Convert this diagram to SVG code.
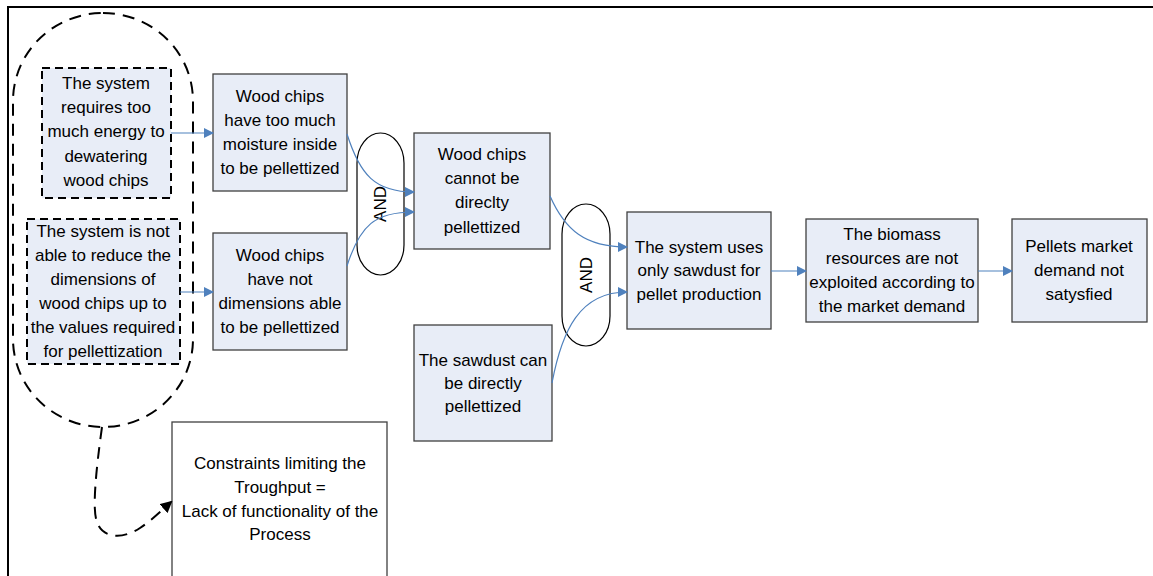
<svg xmlns="http://www.w3.org/2000/svg" width="1153" height="576" viewBox="0 0 1153 576">
<defs>
<style>
.box{fill:#E8EDF7;stroke:#404040;stroke-width:1.3}
.dbox{fill:#E8EDF7;stroke:#000;stroke-width:2;stroke-dasharray:8,5}
.wbox{fill:#fff;stroke:#404040;stroke-width:1.3}
.gate{fill:none;stroke:#000;stroke-width:1.2}
.t{font-family:"Liberation Sans",Arial,sans-serif;font-size:17px;fill:#000;text-anchor:middle}
.c{fill:none;stroke:#4F81BD;stroke-width:1.2}
</style>
<marker id="ab" markerWidth="10" markerHeight="10" refX="9" refY="5" orient="auto" markerUnits="userSpaceOnUse"><path d="M0,0 L10,5 L0,10 z" fill="#4F81BD"/></marker>
<marker id="ak" markerWidth="12" markerHeight="12" refX="10" refY="6" orient="auto" markerUnits="userSpaceOnUse"><path d="M0,0 L12,6 L0,12 z" fill="#000"/></marker>
</defs>
<path d="M8,576 V7 H1153" fill="none" stroke="#000" stroke-width="2"/>
<g id="group-boundary"><rect x="13" y="13" width="180" height="414" rx="90" ry="88" fill="none" stroke="#000" stroke-width="2" stroke-dasharray="12,8"/></g>
<g id="n1"><rect class="dbox" x="42" y="68" width="129" height="130"/>
<text class="t"><tspan x="106" y="89">The system</tspan><tspan x="106" y="113">requires too</tspan><tspan x="106" y="137">much energy to</tspan><tspan x="106" y="162">dewatering</tspan><tspan x="106" y="186">wood chips</tspan></text></g>
<g id="n2"><rect class="dbox" x="27" y="219" width="153" height="145"/>
<text class="t"><tspan x="103" y="237">The system is not</tspan><tspan x="103" y="261">able to reduce the</tspan><tspan x="103" y="285">dimensions of</tspan><tspan x="103" y="309">wood chips up to</tspan><tspan x="103" y="333">the values required</tspan><tspan x="103" y="357">for pellettization</tspan></text></g>
<g id="n3"><rect class="box" x="213" y="74" width="134" height="117"/>
<text class="t"><tspan x="280" y="102">Wood chips</tspan><tspan x="280" y="126">have too much</tspan><tspan x="280" y="150">moisture inside</tspan><tspan x="280" y="174">to be pellettized</tspan></text></g>
<g id="n4"><rect class="box" x="213" y="233" width="134" height="117"/>
<text class="t"><tspan x="280" y="261">Wood chips</tspan><tspan x="280" y="285">have not</tspan><tspan x="280" y="309">dimensions able</tspan><tspan x="280" y="333">to be pellettized</tspan></text></g>
<g id="and1"><rect class="gate" x="357" y="133" width="47" height="142" rx="23.5" ry="30"/>
<text class="t" transform="translate(386,204) rotate(-90)" x="0" y="0">AND</text></g>
<g id="n5"><rect class="box" x="414" y="133" width="136" height="116"/>
<text class="t"><tspan x="482" y="160">Wood chips</tspan><tspan x="482" y="184">cannot be</tspan><tspan x="482" y="208">direclty</tspan><tspan x="482" y="233">pellettized</tspan></text></g>
<g id="n6"><rect class="box" x="414" y="325" width="138" height="116"/>
<text class="t"><tspan x="483" y="366">The sawdust can</tspan><tspan x="483" y="389">be directly</tspan><tspan x="483" y="412">pellettized</tspan></text></g>
<g id="and2"><rect class="gate" x="562" y="204" width="48" height="142" rx="24" ry="30"/>
<text class="t" transform="translate(592,275) rotate(-90)" x="0" y="0">AND</text></g>
<g id="n7"><rect class="box" x="627" y="212" width="144" height="117"/>
<text class="t"><tspan x="699" y="253">The system uses</tspan><tspan x="699" y="276">only sawdust for</tspan><tspan x="699" y="300">pellet production</tspan></text></g>
<g id="n8"><rect class="box" x="806" y="219" width="172" height="103"/>
<text class="t"><tspan x="892" y="240">The biomass</tspan><tspan x="892" y="264">resources are not</tspan><tspan x="892" y="288">exploited according to</tspan><tspan x="892" y="312">the market demand</tspan></text></g>
<g id="n9"><rect class="box" x="1012" y="219" width="135" height="103"/>
<text class="t"><tspan x="1079" y="252">Pellets market</tspan><tspan x="1079" y="276">demand not</tspan><tspan x="1079" y="300">satysfied</tspan></text></g>
<g id="n10"><rect class="wbox" x="172" y="422" width="215" height="160"/>
<text class="t"><tspan x="280" y="469">Constraints limiting the</tspan><tspan x="280" y="493">Troughput =</tspan><tspan x="280" y="517">Lack of functionality of the</tspan><tspan x="280" y="540">Process</tspan></text></g>
<g id="connectors">
<path class="c" d="M171,133 H213" marker-end="url(#ab)"/>
<path class="c" d="M180,292 H213" marker-end="url(#ab)"/>
<path class="c" d="M347,134 C360,175 375,192 414,192" marker-end="url(#ab)"/>
<path class="c" d="M347,266 C360,225 375,212 414,212" marker-end="url(#ab)"/>
<path class="c" d="M550,196 C565,230 585,247 627,247" marker-end="url(#ab)"/>
<path class="c" d="M552,383 C562,330 580,292 627,292" marker-end="url(#ab)"/>
<path class="c" d="M771,271 H806" marker-end="url(#ab)"/>
<path class="c" d="M978,271 H1012" marker-end="url(#ab)"/>
<path d="M102,427 C96,470 92,510 97,522 C102,538 122,540 140,528 C152,520 162,510 171,502" fill="none" stroke="#000" stroke-width="2" stroke-dasharray="12,8" marker-end="url(#ak)"/>
</g>
</svg>
